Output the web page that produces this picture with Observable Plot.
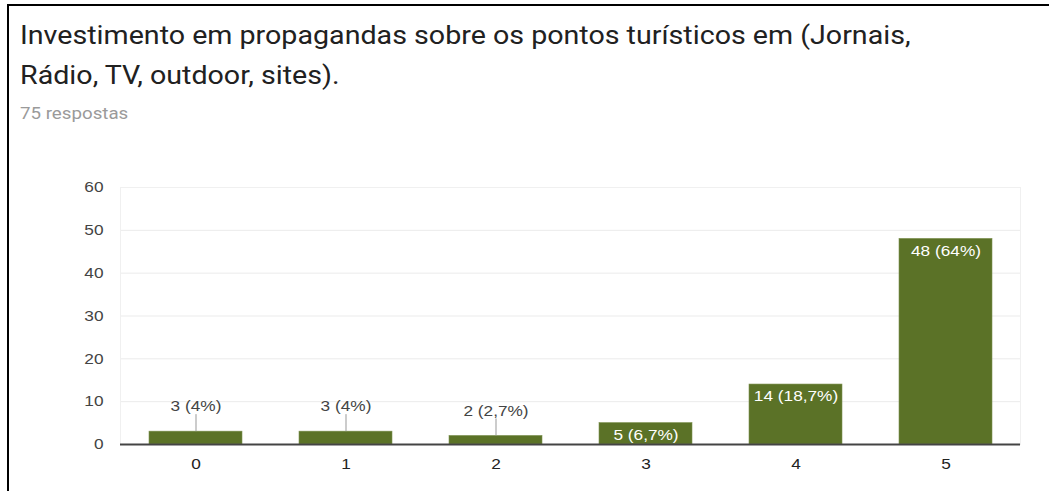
<!DOCTYPE html>
<html>
<head>
<meta charset="utf-8">
<script src="https://cdn.jsdelivr.net/npm/d3@7"></script>
<script src="https://cdn.jsdelivr.net/npm/@observablehq/plot@0.6"></script>
<style>
  html, body { margin: 0; padding: 0; background: #fff; width: 1049px; height: 491px; overflow: hidden; }
  #frame { position: absolute; left: 7px; top: 4px; width: 1042px; height: 487px; border-top: 2px solid #000; border-left: 2px solid #000; box-sizing: border-box; }
  #title { position: absolute; left: 20px; top: 16px; font-family: Roboto, "Noto Sans", sans-serif; font-size: 25px; line-height: 39.5px; color: #212121; white-space: nowrap; transform: scaleX(1.145); transform-origin: 0 0; }
  #sub { position: absolute; left: 20px; top: 104px; font-family: Roboto, sans-serif; font-size: 16px; color: #9a9a9a; transform: scaleX(1.17); transform-origin: 0 0; }
  #chart { position: absolute; left: 0; top: 150px; }
</style>
</head>
<body>
<div id="frame"></div>
<div id="title">Investimento em propagandas sobre os pontos turísticos em (Jornais,<br>Rádio, TV, outdoor, sites).</div>
<div id="sub">75 respostas</div>
<div id="chart"></div>
<script>
const categories = ["0", "1", "2", "3", "4", "5"];
const counts = [3, 3, 2, 5, 14, 48];
const percents = ["4%", "4%", "2,7%", "6,7%", "18,7%", "64%"];
const yTicks = [0, 10, 20, 30, 40, 50, 60];

const data = categories.map((c, i) => ({
  cat: c,
  n: counts[i],
  label: `${counts[i]} (${percents[i]})`
}));
const outside = data.filter(d => d.n < 5);
const inside = data.filter(d => d.n >= 5);

const chart = Plot.plot({
  width: 1049,
  height: 341,
  marginTop: 37,
  marginBottom: 47,
  marginLeft: 120,
  marginRight: 29,
  style: { fontFamily: "Arial, 'Liberation Sans', sans-serif", fontSize: "15px", background: "transparent" },
  x: { domain: categories, paddingInner: 0.38, paddingOuter: 0.19, label: null, tickSize: 0, tickPadding: 14 },
  y: { domain: [0, 60], ticks: yTicks, label: null, tickSize: 0, tickPadding: 17 },
  marks: [
    Plot.gridY(yTicks, { stroke: "#ebebeb", strokeOpacity: 1 }),
    Plot.frame({ stroke: "#f0f0f0", strokeOpacity: 1 }),
    Plot.axisY(yTicks, { tickSize: 0, tickPadding: 17, fill: "#444", fontSize: 15 }),
    Plot.axisX({ tickSize: 0, tickPadding: 14, fill: "#222", fontSize: 15 }),
    Plot.barY(data, { x: "cat", y: "n", fill: "#5b7227", stroke: "#7d9150", strokeWidth: 0.6 }),
    Plot.ruleX(outside, { x: "cat", y1: "n", y2: "n", insetBottom: 17, stroke: "#999", strokeWidth: 1 }),
    Plot.text(outside, { x: "cat", y: "n", text: "label", dy: -25, fill: "#444", fontSize: 15 }),
    Plot.text(inside, { x: "cat", y: "n", text: "label", dy: 12, fill: "#fff", fontSize: 15 }),
    Plot.ruleY([0], { stroke: "#444", strokeWidth: 2 })
  ]
});
// widen glyphs horizontally to match the reference's stretched text
chart.querySelectorAll("text").forEach(t => {
  t.setAttribute("transform", (t.getAttribute("transform") || "") + " scale(1.15,1)");
});
document.getElementById("chart").append(chart);
</script>
</body>
</html>
